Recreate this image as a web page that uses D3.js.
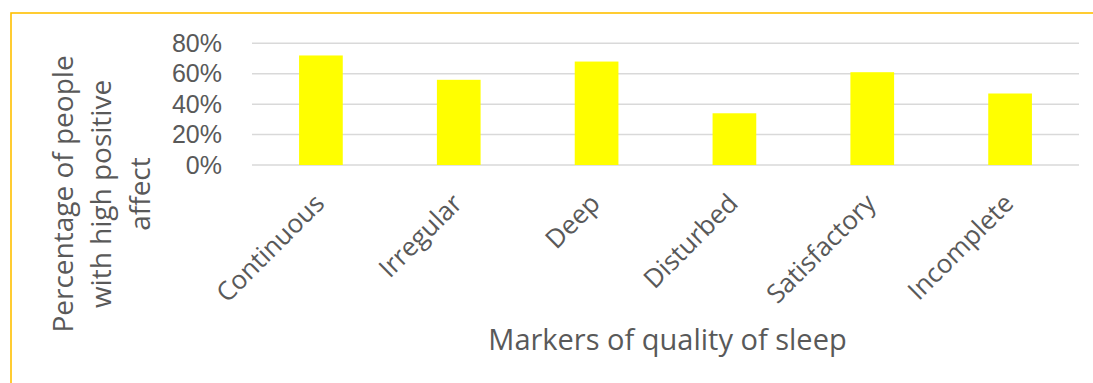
<!DOCTYPE html>
<html>
<head>
<meta charset="utf-8">
<script src="https://cdn.jsdelivr.net/npm/d3@7"></script>
<style>
  html, body { margin: 0; padding: 0; background: #fff; }
  svg { display: block; }
  text { font-family: "Open Sans", "Liberation Sans", sans-serif; fill: #595959; }
</style>
</head>
<body>
<svg id="chart" width="1093" height="383"></svg>
<script>
// Sleep-quality markers and the share of people with high positive affect
const categories = ["Continuous", "Irregular", "Deep", "Disturbed", "Satisfactory", "Incomplete"];
const values = [0.72, 0.56, 0.68, 0.34, 0.61, 0.47];
const yTicks = [0, 0.2, 0.4, 0.6, 0.8];
const yTitleLines = ["Percentage of people", "with high positive", "affect"];
const xTitle = "Markers of quality of sleep";

const svg = d3.select("#chart");
const W = 1093, H = 383;

// Plot area
const plot = { left: 252, right: 1079, top: 43.3, bottom: 165 };

// Outer chart frame
svg.append("rect")
  .attr("x", 11).attr("y", 13)
  .attr("width", W + 20).attr("height", H + 20)
  .attr("fill", "none")
  .attr("stroke", "#FFC000")
  .attr("stroke-width", 1.6);

const x = d3.scaleBand()
  .domain(categories)
  .range([plot.left, plot.right])
  .paddingInner(0.683)
  .paddingOuter(0.683 / 2);

const y = d3.scaleLinear()
  .domain([0, 0.8])
  .range([plot.bottom, plot.top]);

// Horizontal gridlines
svg.append("g")
  .selectAll("line")
  .data(yTicks)
  .join("line")
  .attr("x1", plot.left).attr("x2", plot.right)
  .attr("y1", d => y(d)).attr("y2", d => y(d))
  .attr("stroke", "#d9d9d9")
  .attr("stroke-width", 1.5);

// Y axis labels (compact line box so the stacked labels stay clear of each other)
const yAxis = d3.axisLeft(y)
  .tickValues(yTicks)
  .tickFormat(d3.format(".0%"))
  .tickSize(0)
  .tickPadding(30);
const gy = svg.append("g")
  .attr("transform", `translate(${plot.left},0)`)
  .call(yAxis);
gy.select(".domain").remove();
gy.selectAll("text")
  .style("font-size", "25px")
  .style("font-family", "'Liberation Sans', Arial, sans-serif")
  .attr("fill", "#595959")
  .attr("font-family", null);

// Bars
svg.append("g")
  .selectAll("rect")
  .data(values)
  .join("rect")
  .attr("x", (d, i) => x(categories[i]))
  .attr("width", x.bandwidth())
  .attr("y", d => y(d))
  .attr("height", d => y(0) - y(d))
  .attr("fill", "#FFFF00");

// Category labels, rotated
const xAxis = d3.axisBottom(x).tickSize(0).tickPadding(0);
const gx = svg.append("g")
  .attr("transform", `translate(0,${plot.bottom})`)
  .call(xAxis);
gx.select(".domain").remove();
gx.selectAll("text")
  .style("font-size", "26px")
  .attr("fill", "#595959")
  .attr("font-family", null)
  .attr("text-anchor", "end")
  .attr("dy", null)
  .attr("y", 0)
  .attr("transform", "translate(5,40) rotate(-45)");

// Y axis title
const yTitle = svg.append("text")
  .attr("transform", "translate(0,194) rotate(-90)")
  .attr("text-anchor", "middle")
  .style("font-size", "28px");
yTitle.selectAll("tspan")
  .data(yTitleLines)
  .join("tspan")
  .attr("x", 0)
  .attr("y", (d, i) => 72.5 + i * 38.5)
  .text(d => d);

// X axis title
svg.append("text")
  .attr("x", (plot.left + plot.right) / 2 + 2)
  .attr("y", 350)
  .attr("text-anchor", "middle")
  .style("font-size", "29px")
  .text(xTitle);
</script>
</body>
</html>
